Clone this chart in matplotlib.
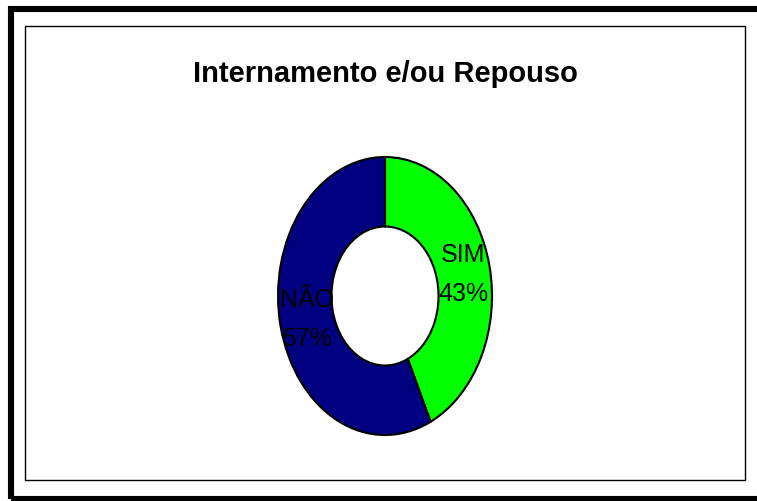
import matplotlib
matplotlib.use('Agg')
import matplotlib.pyplot as plt
from matplotlib.patches import Rectangle

# Dados do gráfico
categorias = ['SIM', 'NÃO']
percentagens = [43, 57]
cores = ['#00FF00', '#000080']
titulo = 'Internamento e/ou Repouso'

plt.rcParams['font.family'] = ['Liberation Sans Narrow', 'Liberation Sans', 'DejaVu Sans']

fig = plt.figure(figsize=(7.57, 5.02), dpi=100)

# Moldura exterior e interior
fig.add_artist(Rectangle((0.0145, 0.004), 1.05, 0.976, transform=fig.transFigure,
                         fill=False, edgecolor='black', linewidth=4.4))
fig.add_artist(Rectangle((0.0324, 0.0418), 0.9517, 0.9044, transform=fig.transFigure,
                         fill=False, edgecolor='black', linewidth=1.0))

# Título
fig.text(0.5086, 0.853, titulo, ha='center', va='center',
         fontsize=21, fontweight='bold')

# Gráfico em anel (elíptico)
ax = fig.add_axes([0.5086 - 0.1696, 0.4084 - 0.3323, 0.3392, 0.6645])
textos = [f'{c}\n{p}%' for c, p in zip(categorias, percentagens)]
wedges, labels = ax.pie(percentagens, labels=textos, colors=cores, startangle=90,
                        counterclock=False, radius=1.0, labeldistance=0.75,
                        wedgeprops=dict(width=0.5, edgecolor='black', linewidth=1.5),
                        textprops=dict(fontsize=18, ha='center', va='center',
                                       linespacing=1.8))
ax.set_aspect('auto')
ax.set_xlim(-1.2, 1.2)
ax.set_ylim(-1.2, 1.2)
ax.axis('off')

plt.savefig('out.png', dpi=100)
